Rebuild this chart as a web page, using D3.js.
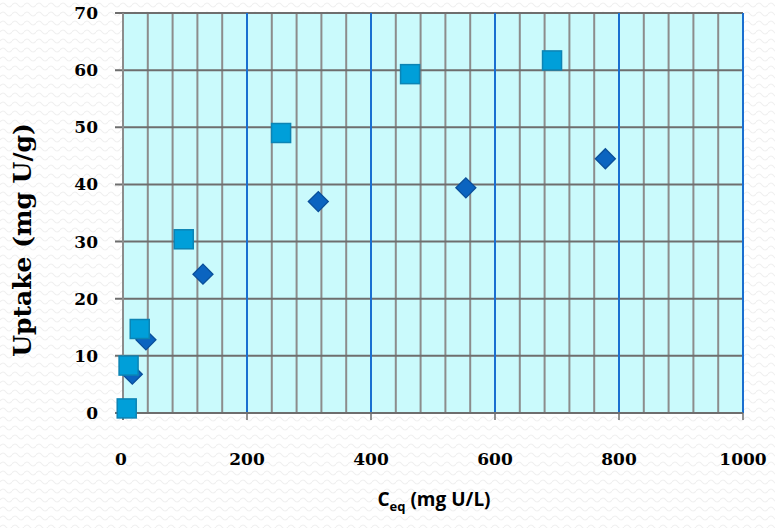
<!DOCTYPE html>
<html>
<head>
<meta charset="utf-8">
<script src="https://cdn.jsdelivr.net/npm/d3@7"></script>
<style>
  html, body { margin: 0; padding: 0; background: #fff; }
  svg { display: block; }
</style>
</head>
<body>
<svg id="chart" width="775" height="528"></svg>
<script>
// series
const squareX = [6, 9, 27, 98, 255, 463, 692];
const squareY = [0.8, 8.3, 14.7, 30.4, 49, 59.3, 61.7];
const diamondX = [15, 37, 129, 315, 553, 778];
const diamondY = [6.8, 12.8, 24.3, 37, 39.4, 44.5];
const xTicks = [0, 200, 400, 600, 800, 1000];
const yTicks = [0, 10, 20, 30, 40, 50, 60, 70];

const W = 775, H = 528;
const m = { left: 123, top: 13, right: 32, bottom: 115 };

const svg = d3.select('#chart');

// faint wavy backdrop
const defs = svg.append('defs');
const pat = defs.append('pattern').attr('id', 'wave')
  .attr('patternUnits', 'userSpaceOnUse').attr('width', 12).attr('height', 9);
pat.append('path').attr('d', 'M0,5 Q3,1 6,5 T12,5')
  .attr('fill', 'none').attr('stroke', '#f0f0f0').attr('stroke-width', 1.2);
svg.append('rect').attr('width', W).attr('height', H).attr('fill', '#fff');
svg.append('rect').attr('width', W).attr('height', H).attr('fill', 'url(#wave)');

const x = d3.scaleLinear().domain([0, 1000]).range([m.left, W - m.right]);
const y = d3.scaleLinear().domain([0, 70]).range([H - m.bottom, m.top]);

svg.append('rect')
  .attr('x', x(0)).attr('y', y(70))
  .attr('width', x(1000) - x(0)).attr('height', y(0) - y(70))
  .attr('fill', '#cafafc');

// minor vertical grid every 40
const minorX = d3.range(40, 1000, 40).filter(v => v % 200 !== 0);
svg.append('g').selectAll('line').data(minorX).enter().append('line')
  .attr('x1', d => x(d)).attr('x2', d => x(d))
  .attr('y1', y(0)).attr('y2', y(70))
  .attr('stroke', '#8c8c8c').attr('stroke-width', 2);

// horizontal grid
svg.append('g').selectAll('line').data(yTicks.slice(1)).enter().append('line')
  .attr('x1', x(0) - 8).attr('x2', x(1000))
  .attr('y1', d => y(d)).attr('y2', d => y(d))
  .attr('stroke', '#6e6e6e').attr('stroke-width', 2);

// major vertical grid
svg.append('g').selectAll('line').data(xTicks.slice(1)).enter().append('line')
  .attr('x1', d => x(d)).attr('x2', d => x(d))
  .attr('y1', y(0)).attr('y2', y(70))
  .attr('stroke', '#1a6fd0').attr('stroke-width', 2);

// axes lines + ticks
svg.append('line').attr('x1', x(0) - 8).attr('x2', x(1000))
  .attr('y1', y(0)).attr('y2', y(0)).attr('stroke', '#6e6e6e').attr('stroke-width', 2);
svg.append('line').attr('x1', x(0)).attr('x2', x(0))
  .attr('y1', y(70)).attr('y2', y(0) + 7).attr('stroke', '#8c8c8c').attr('stroke-width', 2);
svg.append('g').selectAll('line').data(xTicks).enter().append('line')
  .attr('x1', d => x(d)).attr('x2', d => x(d))
  .attr('y1', y(0)).attr('y2', y(0) + 7)
  .attr('stroke', '#6e6e6e').attr('stroke-width', 1.5);

// tick labels
const serif = "'DejaVu Serif', 'Liberation Serif', serif";
svg.append('g').selectAll('text').data(yTicks).enter().append('text')
  .attr('x', 98).attr('y', d => y(d)).attr('dy', '0.35em')
  .attr('text-anchor', 'end')
  .style('font-family', serif).style('font-weight', 'bold').style('font-size', '17px')
  .text(d => d);
svg.append('g').selectAll('text').data(xTicks).enter().append('text')
  .attr('x', d => x(d) + (d === 0 ? -2 : 0)).attr('y', 465)
  .attr('text-anchor', 'middle')
  .style('font-family', serif).style('font-weight', 'bold').style('font-size', '17px')
  .text(d => d);

// axis titles
svg.append('text')
  .attr('transform', `translate(31,${(y(0) + y(70)) / 2 + 27}) rotate(-90)`)
  .attr('text-anchor', 'middle')
  .style('font-family', serif).style('font-weight', 'bold').style('font-size', '25px')
  .text('Uptake (mg U/g)');
const xt = svg.append('text')
  .attr('x', 434).attr('y', 506).attr('text-anchor', 'middle')
  .style('font-family', "'Open Sans', sans-serif").style('font-weight', 'bold').style('font-size', '19px');
xt.append('tspan').text('C');
xt.append('tspan').attr('dy', 5).style('font-size', '13px').text('eq');
xt.append('tspan').attr('dy', -5).text(' (mg U/L)');

// diamonds below squares
const diamonds = d3.zip(diamondX, diamondY);
svg.append('g').selectAll('path').data(diamonds).enter().append('path')
  .attr('d', d3.symbol(d3.symbolSquare, 200))
  .attr('transform', d => `translate(${x(d[0])},${y(d[1])}) rotate(45)`)
  .attr('fill', '#0b64c0').attr('stroke', '#0a4f9a').attr('stroke-width', 1.3);

const squares = d3.zip(squareX, squareY);
svg.append('g').selectAll('rect').data(squares).enter().append('rect')
  .attr('x', d => x(d[0]) - 9.5).attr('y', d => y(d[1]) - 9.5)
  .attr('width', 19).attr('height', 19)
  .attr('fill', '#009fd9').attr('stroke', '#0c84b4').attr('stroke-width', 1.5);
</script>
</body>
</html>
